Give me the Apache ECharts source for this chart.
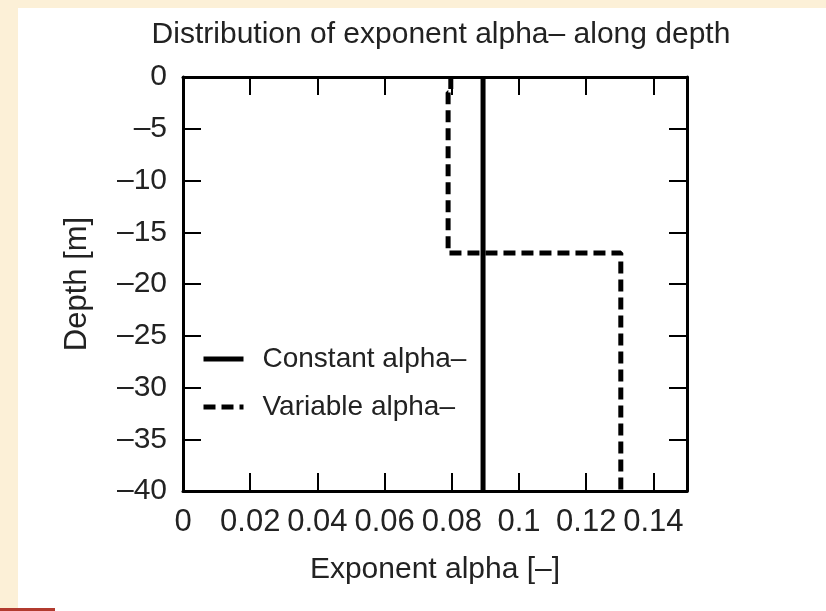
<!DOCTYPE html>
<html>
<head>
<meta charset="utf-8">
<script src="https://cdn.jsdelivr.net/npm/echarts@6/dist/echarts.min.js"></script>
<style>
  html, body { margin: 0; padding: 0; background: #fcf0d7; }
  #main { width: 826px; height: 611px; }
</style>
</head>
<body>
<div id="main"></div>
<script>
// values
var constantX = [0.0893, 0.0893];
var constantY = [0, -40];
var variableX = [0.0797, 0.0797, 0.0789, 0.0789, 0.1303, 0.1303];
var variableY = [0, -1.5, -1.5, -17, -17, -40];
var seriesNames = ['Constant alpha\u2013', 'Variable alpha\u2013'];

var font = '"Liberation Sans", Arial, sans-serif';

function pairs(xs, ys) {
  var out = [];
  for (var i = 0; i < xs.length; i++) out.push([xs[i], ys[i]]);
  return out;
}

function minus(v) {
  return String(v).replace('-', '\u2013');
}

var chart = echarts.init(document.getElementById('main'));

var tickStyle = { show: true, inside: true, length: 18, lineStyle: { color: '#000', width: 2 } };
var lineStyle = { show: true, onZero: false, lineStyle: { color: '#000', width: 3 } };

var option = {
  backgroundColor: '#fcf0d7',
  animation: false,
  graphic: [
    { type: 'rect', left: 18, top: 8, shape: { width: 808, height: 603 }, style: { fill: '#ffffff' }, z: -10 },
    { type: 'rect', left: 0, top: 608, shape: { width: 55, height: 3 }, style: { fill: '#b23b2f' }, z: -10 }
  ],
  title: {
    text: 'Distribution of exponent alpha\u2013 along depth',
    left: 436,
    textAlign: 'center',
    top: 15,
    textStyle: { fontFamily: font, fontSize: 30, fontWeight: 'normal', color: '#222' }
  },
  legend: {
    orient: 'vertical',
    left: 196,
    top: 340,
    itemWidth: 40,
    itemHeight: 8,
    itemGap: 20,
    itemStyle: { opacity: 0 },
    lineStyle: { width: 5 },
    textStyle: { fontFamily: font, fontSize: 28, color: '#222', padding: [0, 0, 0, 14] },
    data: seriesNames
  },
  grid: { left: 183, right: 139, top: 77, bottom: 120 },
  xAxis: [{
    type: 'value',
    min: 0, max: 0.15, interval: 0.02,
    name: 'Exponent alpha [\u2013]',
    nameLocation: 'middle',
    nameGap: 64,
    nameTextStyle: { fontFamily: font, fontSize: 30, color: '#222' },
    axisLine: lineStyle,
    axisTick: tickStyle,
    splitLine: { show: false },
    axisLabel: {
      showMaxLabel: false,
      margin: 16,
      fontFamily: font, fontSize: 31, color: '#222'
    }
  }, {
    type: 'value',
    position: 'top',
    min: 0, max: 0.15, interval: 0.02,
    axisLine: lineStyle,
    axisTick: tickStyle,
    splitLine: { show: false },
    axisLabel: { show: false }
  }],
  yAxis: [{
    type: 'value',
    min: -40, max: 0, interval: 5,
    name: 'Depth [m]',
    nameLocation: 'middle',
    nameGap: 90,
    nameTextStyle: { fontFamily: font, fontSize: 31, color: '#222' },
    axisLine: lineStyle,
    axisTick: tickStyle,
    splitLine: { show: false },
    axisLabel: {
      margin: 16,
      fontFamily: font, fontSize: 30, color: '#222',
      formatter: minus
    }
  }, {
    type: 'value',
    position: 'right',
    min: -40, max: 0, interval: 5,
    axisLine: lineStyle,
    axisTick: tickStyle,
    splitLine: { show: false },
    axisLabel: { show: false }
  }],
  series: [{
    name: seriesNames[0],
    type: 'line',
    data: pairs(constantX, constantY),
    symbol: 'none',
    lineStyle: { color: '#000', width: 5, type: 'solid' },
    itemStyle: { color: '#000' }
  }, {
    name: seriesNames[1],
    type: 'line',
    data: pairs(variableX, variableY),
    symbol: 'none',
    lineStyle: { color: '#000', width: 5, type: [12, 6], cap: 'butt' },
    itemStyle: { color: '#000' }
  }]
};

chart.setOption(option);
</script>
</body>
</html>
